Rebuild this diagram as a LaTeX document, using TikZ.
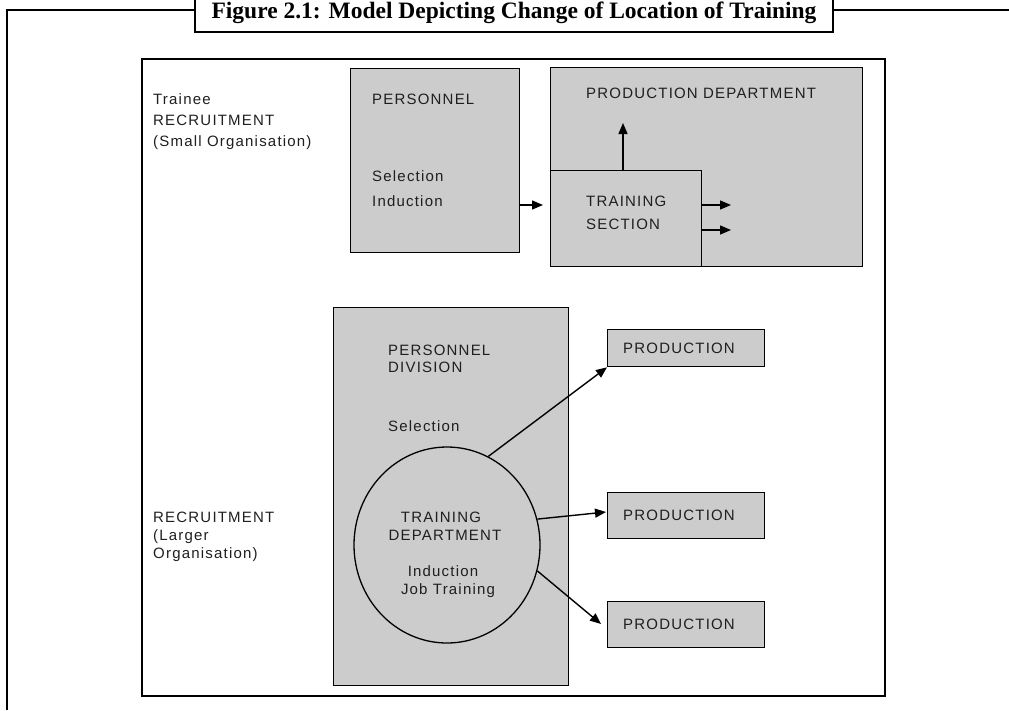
\documentclass[tikz,border=0pt]{standalone}
\usepackage{fontspec}
\newfontfamily\lbl[LetterSpace=8]{Liberation Sans}
\newfontfamily\ttlfont{Liberation Serif}
\usetikzlibrary{arrows.meta,shapes.geometric}
\definecolor{boxgray}{RGB}{204,204,204}
\begin{document}
\begin{tikzpicture}[x=1pt,y=-1pt,
  frameline/.style={line width=2.2pt},
  gbox/.style={draw,fill=boxgray,line width=1.3pt},
  lab/.style={anchor=base west,inner sep=0pt,font=\lbl\fontsize{15}{18}\selectfont,text=black!88},
  labc/.style={anchor=base,inner sep=0pt,font=\lbl\fontsize{15}{18}\selectfont,text=black!88},
  arr/.style={line width=1.4pt,-{Triangle[length=11pt,width=9pt]}}]
\useasboundingbox (0,0) rectangle (1009,710);
% outer frame and title
\coordinate (ol) at (7,710);
\coordinate (ot) at (7,10);
\coordinate (or) at (1009,10);
\draw[frameline] (ol) -- (ot) -- (195,10);
\draw[frameline] (833,10) -- (or);
\draw[frameline,fill=white] (195,-10) rectangle (833,32);
\node[anchor=base,inner sep=0pt,font=\ttlfont\bfseries\fontsize{23.5}{28}\selectfont] (title) at (514,18) {Figure 2.1: Model Depicting Change of Location of Training};
% inner frame
\draw[line width=1.3pt] (142,59) rectangle (885,696);
% top part
\node[gbox,minimum width=169pt,minimum height=184pt,anchor=north west] (pers) at (350,68) {};
\node[gbox,minimum width=312pt,minimum height=199pt,anchor=north west] (prod) at (550,67) {};
\node[gbox,minimum width=151pt,minimum height=96pt,anchor=north west] (train) at (550,170) {};
\node[lab] (t1) at (153,104) {Trainee};
\node[lab] (t2) at (153,125) {RECRUITMENT};
\node[lab] (t3) at (153,146) {(Small Organisation)};
\node[lab] (p1) at (372,104) {PERSONNEL};
\node[lab] (p2) at (372,181) {Selection};
\node[lab] (p3) at (372,206) {Induction};
\node[lab] (pd) at (586,98) {PRODUCTION DEPARTMENT};
\node[lab] (ts1) at (586,206) {TRAINING};
\node[lab] (ts2) at (586,229) {SECTION};
\coordinate (upend) at (623,123);
\draw[arr] (train.north west -| upend) -- (upend);
\coordinate (r1) at (731,205);
\coordinate (r2) at (731,230);
\draw[arr] (train.east |- r1) -- (r1);
\draw[arr] (train.east |- r2) -- (r2);
\coordinate (pt) at (543,205);
\draw[arr] (pers.east |- pt) -- (pt);
% bottom part
\node[gbox,minimum width=235pt,minimum height=378pt,anchor=north west] (pdiv) at (333,307) {};
\node[lab] (d1) at (388,355) {PERSONNEL};
\node[lab] (d2) at (388,372) {DIVISION};
\node[lab] (d3) at (388,431) {Selection};
\node[ellipse,draw,line width=1.3pt,minimum width=186pt,minimum height=196pt,inner sep=0pt] (ell) at (447,545) {};
\node[labc] (e1) at (441,522) {TRAINING};
\node[labc] (e2) at (445,540) {DEPARTMENT};
\node[labc] (e3) at (443,576) {Induction};
\node[labc] (e4) at (448,594) {Job Training};
\node[gbox,minimum width=157pt,minimum height=37pt,anchor=north west] (b1) at (607,329) {};
\node[gbox,minimum width=157pt,minimum height=46pt,anchor=north west] (b2) at (607,492) {};
\node[gbox,minimum width=157pt,minimum height=46pt,anchor=north west] (b3) at (607,601) {};
\node[lab] (b1t) at (623,353) {PRODUCTION};
\node[lab] (b2t) at (623,520) {PRODUCTION};
\node[lab] (b3t) at (623,629) {PRODUCTION};
\node[lab] (l1) at (153,522) {RECRUITMENT};
\node[lab] (l2) at (153,540) {(Larger};
\node[lab] (l3) at (153,558) {Organisation)};
\draw[arr] (ell.65) -- (b1.south west);
\coordinate (a2) at (606,512);
\draw[arr] (ell.16) -- (a2);
\coordinate (a3) at (601,624);
\draw[arr] (ell.-16) -- (a3);
\end{tikzpicture}
\end{document}
